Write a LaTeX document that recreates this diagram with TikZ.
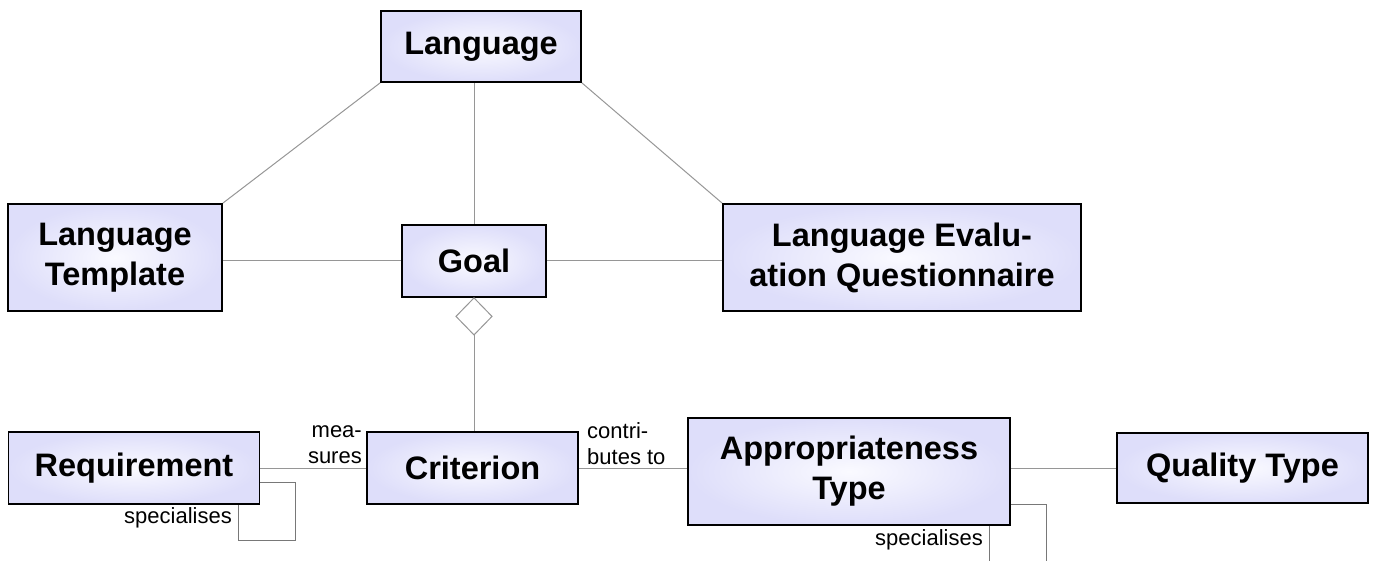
\documentclass[tikz,border=0pt]{standalone}
\usepackage{fontspec}
\setmainfont{Liberation Sans}
\definecolor{boxout}{RGB}{222,222,250}
\definecolor{boxin}{RGB}{250,250,255}
\definecolor{conn}{RGB}{150,150,150}
\definecolor{loopc}{RGB}{120,120,120}
\tikzset{
  cls/.style={draw=black, line width=1.8pt, inner color=boxin, outer color=boxout,
    inner sep=0pt, align=center, font=\bfseries\fontsize{32.5}{40}\selectfont},
  conline/.style={draw=conn, line width=1pt},
  loopline/.style={draw=loopc, line width=1pt},
  lbl/.style={inner sep=0pt, font=\fontsize{22}{26}\selectfont}
}
\begin{document}
\begin{tikzpicture}[x=1pt,y=-1pt]
\useasboundingbox (0,0) rectangle (1374,561);
% nodes
\node[cls, minimum width=200pt, minimum height=71pt] (lang) at (481,46.5) {Language};
\node[cls, minimum width=214pt, minimum height=107pt] (tmpl) at (115,257.5) {Language\\Template};
\node[cls, minimum width=144pt, minimum height=72pt] (goal) at (474,261) {Goal};
\node[cls, minimum width=358pt, minimum height=107pt] (quest) at (902,257.5) {Language Evalu-\\ation Questionnaire};
\node[cls, minimum width=251pt, minimum height=72pt] (req) at (134,468) {Requirement};
\node[cls, minimum width=211pt, minimum height=72pt] (crit) at (472.5,468) {Criterion};
\node[cls, minimum width=322pt, minimum height=107pt] (appr) at (849,471.5) {Appropriateness\\Type};
\node[cls, minimum width=251pt, minimum height=70pt] (qual) at (1242.5,468) {Quality Type};
% connectors
\draw[conline] (lang.south west) -- (tmpl.north east);
\draw[conline] (lang.south east) -- (quest.north west);
\draw[conline] (lang.south -| goal.north) -- (goal.north);
\draw[conline] (tmpl.east |- goal.west) -- (goal.west);
\draw[conline] (goal.east) -- (quest.west |- goal.east);
\draw[conline, fill=white] (goal.south) -- ++(18,18.5) -- ++(-18,18.5) coordinate (dtip) -- ++(-18,-18.5) -- cycle;
\draw[conline] (dtip) -- (dtip |- crit.north);
\draw[conline] (req.east |- crit.west) -- (crit.west);
\draw[conline] (crit.east) -- (appr.west |- crit.east);
\draw[conline] (appr.east |- qual.west) -- (qual.west);
% self loops
\coordinate (rl1) at (req.east |- 0,482);
\coordinate (rl2) at (238,0 |- req.south);
\draw[loopline] (rl1) -- (295,482) -- (295,540) -- (238,540) -- (rl2);
\coordinate (al1) at (appr.east |- 0,504);
\coordinate (al2) at (989,0 |- appr.south);
\draw[loopline] (al1) -- (1046,504) -- (1046,561);
\draw[loopline] (al2) -- (989,561);
% labels
\node[lbl, anchor=east, align=right] (lmea) at (362,445) {mea-\\sures};
\node[lbl, anchor=west, align=left] (lcon) at (587,444) {contri-\\butes to};
\node[lbl, anchor=east] (lsp1) at (232,518) {specialises};
\node[lbl, anchor=east] (lsp2) at (983,540) {specialises};
\end{tikzpicture}
\end{document}
